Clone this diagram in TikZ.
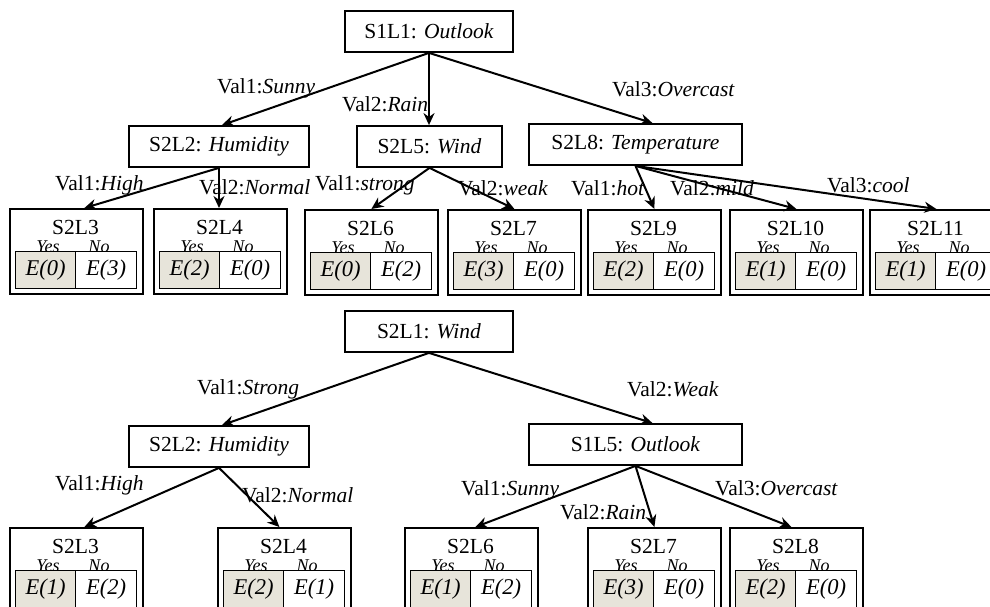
\documentclass[tikz,border=0pt]{standalone}
\usepackage{fontspec}
\setmainfont{Liberation Serif}
\usetikzlibrary{arrows.meta,calc}
\definecolor{cellgray}{HTML}{E7E4DA}

\tikzset{
  every node/.style={font=\fontsize{21.5}{24}\selectfont},
  inner/.style={draw, line width=1.8pt, minimum height=41pt, inner sep=0pt},
  leaf/.style={draw, line width=1.8pt, minimum width=133pt, minimum height=85pt,
               inner sep=0pt, anchor=north west},
  cellbox/.style={draw, line width=1.4pt, minimum height=37pt, inner sep=0pt,
                  anchor=north west, font=\fontsize{22.5}{24}\selectfont\itshape},
  yescell/.style={cellbox, fill=cellgray, minimum width=60pt},
  nocell/.style={cellbox, fill=white, minimum width=61pt},
  yn/.style={anchor=base, inner sep=0pt, font=\fontsize{18}{20}\selectfont\itshape},
  lbl/.style={anchor=base west, inner sep=0pt},
  link/.style={line width=2pt, -{Stealth[length=12pt,width=11pt]}},
}

% leaf: name, left x, top y, title, Yes count, No count
\newcommand\leafbox[6]{%
  \node[leaf] (#1) at (#2,#3) {};
  \node[anchor=center] (#1t) at (#2+66.5,#3+19) {#4};
  \node[yn] (#1yes) at (#2+39,#3+44.5) {Yes};
  \node[yn] (#1no) at (#2+90,#3+44.5) {No};
  \node[yescell] (#1a) at (#2+6,#3+43) {E(#5)};
  \node[nocell] (#1b) at (#2+66,#3+43) {E(#6)};
}

\begin{document}
\begin{tikzpicture}[x=1pt,y=-1pt]
\useasboundingbox (0,0) rectangle (990,607);
\clip (0,0) rectangle (990,607);

% ---------------- first tree ----------------
\node[inner, minimum width=168pt] (s1l1) at (429,31.5) {S1L1: \textit{Outlook}};
\node[inner, minimum width=180pt] (t2) at (219,146.5) {S2L2: \textit{Humidity}};
\node[inner, minimum width=145pt] (t5) at (429.5,146.5) {S2L5: \textit{Wind}};
\node[inner, minimum width=213pt] (t8) at (635.5,144.5) {S2L8: \textit{Temperature}};

\leafbox{t3}{9}{208}{S2L3}{0}{3}
\leafbox{t4}{153}{208}{S2L4}{2}{0}
\leafbox{t6}{304}{209}{S2L6}{0}{2}
\leafbox{t7}{447}{209}{S2L7}{3}{0}
\leafbox{t9}{587}{209}{S2L9}{2}{0}
\leafbox{t10}{729}{209}{S2L10}{1}{0}
\leafbox{t11}{869}{209}{S2L11}{1}{0}

\draw[link] (s1l1.south) -- ($(t2.north)+(3,0)$);
\draw[link] (s1l1.south) -- (s1l1.south |- t5.north);
\draw[link] (s1l1.south) -- ($(t8.north)+(17,0)$);
\draw[link] (t2.south) -- ($(t3.north)+(8,0)$);
\draw[link] (t2.south) -- (t2.south |- t4.north);
\draw[link] (t5.south) -- (t6.north);
\draw[link] (t5.south) -- (t7.north);
\draw[link] (t8.south) -- (t9.north);
\draw[link] (t8.south) -- (t10.north);
\draw[link] (t8.south) -- (t11.north);

\node[lbl] (la1) at (217,94) {Val1:\textit{Sunny}};
\node[lbl] (la2) at (342,112) {Val2:\textit{Rain}};
\node[lbl] (la3) at (612,97) {Val3:\textit{Overcast}};
\node[lbl] (lb1) at (55,190) {Val1:\textit{High}};
\node[lbl] (lb2) at (199,194) {Val2:\textit{Normal}};
\node[lbl] (lc1) at (315,190) {Val1:\textit{strong}};
\node[lbl] (lc2) at (458,195) {Val2:\textit{weak}};
\node[lbl] (ld1) at (571,195) {Val1:\textit{hot}};
\node[lbl] (ld2) at (670,195) {Val2:\textit{mild}};
\node[lbl] (ld3) at (827,192) {Val3:\textit{cool}};

% ---------------- second tree ----------------
\node[inner, minimum width=168pt] (s2l1) at (429,331.5) {S2L1: \textit{Wind}};
\node[inner, minimum width=180pt] (u2) at (219,446.5) {S2L2: \textit{Humidity}};
\node[inner, minimum width=213pt] (u5) at (635.5,444.5) {S1L5: \textit{Outlook}};

\leafbox{u3}{9}{527}{S2L3}{1}{2}
\leafbox{u4}{217}{527}{S2L4}{2}{1}
\leafbox{u6}{404}{527}{S2L6}{1}{2}
\leafbox{u7}{587}{527}{S2L7}{3}{0}
\leafbox{u8}{729}{527}{S2L8}{2}{0}

\draw[link] (s2l1.south) -- ($(u2.north)+(3,0)$);
\draw[link] (s2l1.south) -- ($(u5.north)+(17,0)$);
\draw[link] (u2.south) -- ($(u3.north)+(8,0)$);
\draw[link] (u2.south) -- ($(u4.north)+(-5,0)$);
\draw[link] (u5.south) -- ($(u6.north)+(4,0)$);
\draw[link] (u5.south) -- (u7.north);
\draw[link] (u5.south) -- ($(u8.north)+(-5,0)$);

\node[lbl] (le1) at (197,394) {Val1:\textit{Strong}};
\node[lbl] (le2) at (627,396) {Val2:\textit{Weak}};
\node[lbl] (lf1) at (55,490) {Val1:\textit{High}};
\node[lbl] (lf2) at (242,502) {Val2:\textit{Normal}};
\node[lbl] (lg1) at (461,495) {Val1:\textit{Sunny}};
\node[lbl] (lg2) at (560,519) {Val2:\textit{Rain}};
\node[lbl] (lg3) at (715,495) {Val3:\textit{Overcast}};
\end{tikzpicture}
\end{document}
